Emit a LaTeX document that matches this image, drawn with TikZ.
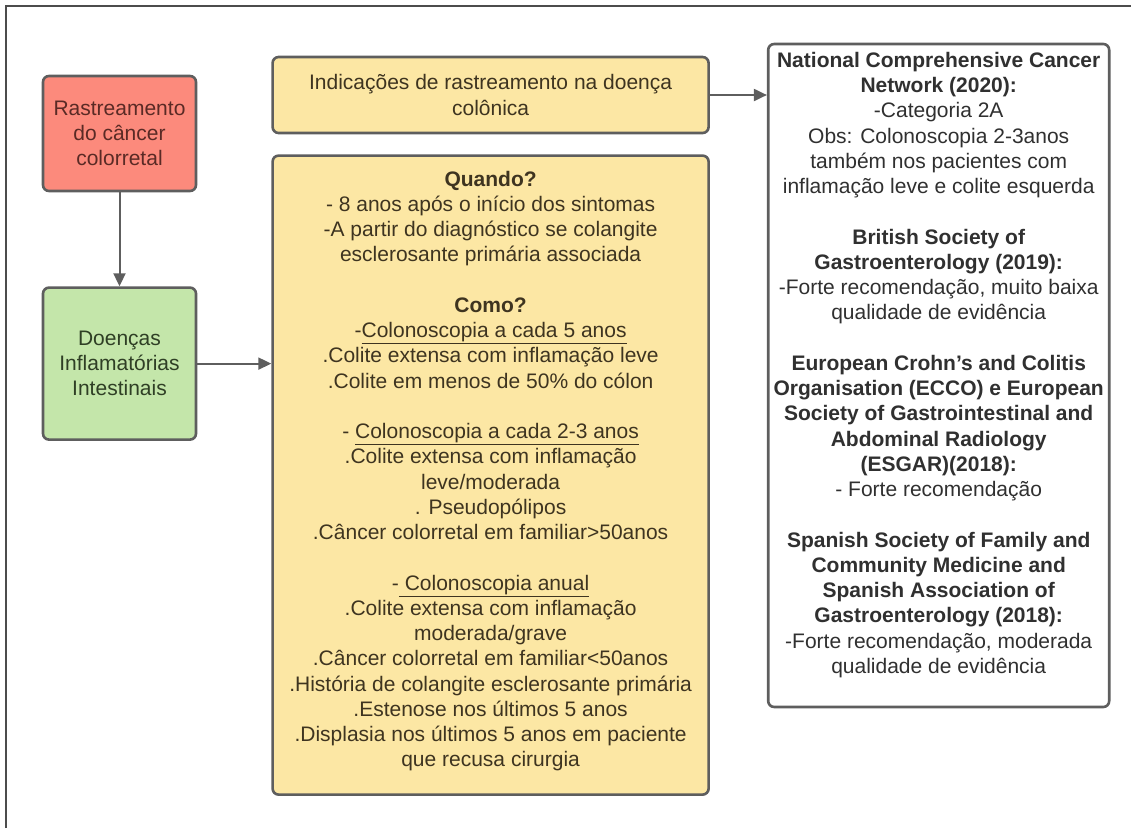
\documentclass[tikz,border=0pt]{standalone}
\usepackage{fontspec}
\setmainfont{Liberation Sans}
\usetikzlibrary{positioning,arrows.meta}
\definecolor{boxline}{HTML}{5E5E5E}
\definecolor{rastreioRed}{HTML}{FC8A7C}
\definecolor{rastreioGreen}{HTML}{C4E6AA}
\definecolor{rastreioYellow}{HTML}{FCE7A4}
\definecolor{redText}{HTML}{5A2A25}
\definecolor{greenText}{HTML}{2F3F25}
\definecolor{yellowText}{HTML}{3E3420}
\definecolor{grayText}{HTML}{303030}
\newcommand{\RastreioSize}{1.0}
\tikzset{
	caixa/.style={draw=boxline, line width=2.6pt, rounded corners=6pt, align=center, inner sep=0pt, font=\fontsize{21}{25.25}\selectfont},
	caixaRed/.style={caixa, fill=rastreioRed, text=redText, minimum width=153pt, minimum height=115pt},
	caixaGreen/.style={caixa, fill=rastreioGreen, text=greenText, minimum width=153pt, minimum height=152pt},
	caixaYellow/.style={caixa, fill=rastreioYellow, text=yellowText, minimum width=436pt},
	caixaGuide/.style={caixa, fill=white, text=grayText, minimum width=341pt, minimum height=663pt},
	seta/.style={draw=boxline, line width=2pt, -{Triangle[length=13pt,width=12pt]}},
	moldura/.style={draw=gray!60!black, line width=1.5pt}
}

\begin{document}
\begin{tikzpicture}
		\useasboundingbox (0,0) rectangle (1131pt,-828pt);
		\draw[moldura] (6pt,-828pt) -- (6pt,-6pt) -- (1131pt,-6pt);
		\node[caixaRed] (crc) at (119.5pt,-133.5pt) {Rastreamento\\do câncer\\colorretal};
		\node[caixaGreen, below=\RastreioSize*94 pt of crc] (ibd) {Doenças\\Inflamatórias\\Intestinais};
		\node[caixaYellow, minimum height=76pt, right=\RastreioSize*74 pt of crc.north east, anchor=north west, yshift=\RastreioSize*19 pt] (ind) {Indicações de rastreamento na doença\\colônica};
		\node[caixaYellow, minimum height=639pt, below=\RastreioSize*20 pt of ind] (quando) {\textbf{Quando?}\\
			- 8 anos após o início dos sintomas\\
			-A partir do diagnóstico se colangite\\
			esclerosante primária associada\\[25.25pt]
			\textbf{Como?}\\
			-\underline{Colonoscopia a cada 5 anos}\\
			.Colite extensa com inflamação leve\\
			.Colite em menos de 50\% do cólon\\[25.25pt]
			- \underline{Colonoscopia a cada 2-3 anos}\\
			.Colite extensa com inflamação\\
			leve/moderada\\
			. Pseudopólipos\\
			.Câncer colorretal em familiar>50anos\\[25.25pt]
			-\underline{\ Colonoscopia anual}\\
			.Colite extensa com inflamação\\
			moderada/grave\\
			.Câncer colorretal em familiar<50anos\\
			.História de colangite esclerosante primária\\
			.Estenose nos últimos 5 anos\\
			.Displasia nos últimos 5 anos em paciente\\
			que recusa cirurgia\\[-12.6pt]
			\mbox{}};
		\node[caixaGuide, right=\RastreioSize*57 pt of ind.north east, anchor=north west, yshift=\RastreioSize*13 pt] (guide) {\textbf{National Comprehensive Cancer}\\
			\textbf{Network (2020):}\\
			-Categoria 2A\\
			Obs: Colonoscopia 2-3anos\\
			também nos pacientes com\\
			inflamação leve e colite esquerda\\[25.25pt]
			\textbf{British Society of}\\
			\textbf{Gastroenterology (2019):}\\
			-Forte recomendação, muito baixa\\
			qualidade de evidência\\[25.25pt]
			\textbf{European Crohn’s and Colitis}\\
			\textbf{Organisation (ECCO) e European}\\
			\textbf{Society of Gastrointestinal and}\\
			\textbf{Abdominal Radiology}\\
			\textbf{(ESGAR)(2018):}\\
			- Forte recomendação\\[25.25pt]
			\textbf{Spanish Society of Family and}\\
			\textbf{Community Medicine and}\\
			\textbf{Spanish Association of}\\
			\textbf{Gastroenterology (2018):}\\
			-Forte recomendação, moderada\\
			qualidade de evidência\\
			\mbox{}};
		\draw[seta] (crc) -- (ibd);
		\draw[seta] (ibd.east) -- (ibd.east -| quando.west);
		\draw[seta] (ind.east) -- (ind.east -| guide.west);
\end{tikzpicture}
\end{document}
